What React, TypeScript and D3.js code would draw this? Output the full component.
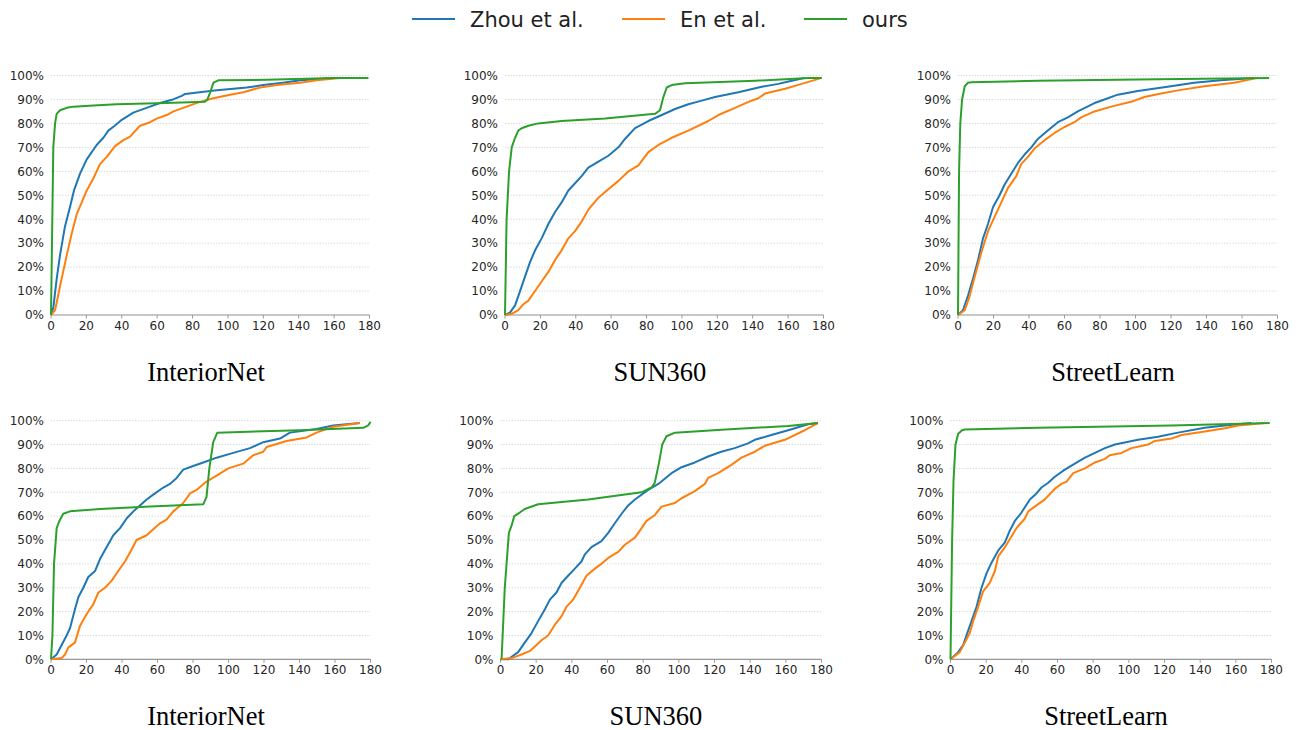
import React from "react"
import * as d3 from "d3"

// series names + colours (matplotlib tab10)
const seriesNames = ["Zhou et al.", "En et al.", "ours"]
const seriesColors = ["#1f77b4", "#ff7f0e", "#2ca02c"]

const panelTitles = ["InteriorNet", "SUN360", "StreetLearn", "InteriorNet", "SUN360", "StreetLearn"]

const xTicks = [0, 20, 40, 60, 80, 100, 120, 140, 160, 180]
const yTicks = [0, 10, 20, 30, 40, 50, 60, 70, 80, 90, 100]

// [angle error, cumulative %]
// top row
const zhou1 = [[0, 0], [1.3, 3], [3.2, 15], [5.1, 25], [7.9, 37], [10.7, 45], [13, 52], [16.4, 59], [20.2, 65], [25.8, 71], [29.6, 74], [32.4, 77], [36, 79], [40, 81.5], [46.5, 84.5], [54, 86.5], [61.6, 88.5], [69, 90], [73.9, 91.5], [75.8, 92.3], [84, 93], [93.7, 93.8], [103, 94.5], [110.6, 95], [120, 96], [131, 97], [141, 98], [159.6, 99]]
const en1 = [[0, 0], [2.3, 2], [5.1, 12], [8.9, 25], [11.7, 34], [14.5, 42], [20.2, 52], [23.9, 57], [27.7, 63], [31.5, 66], [36.2, 70.5], [40.9, 73], [44.7, 74.5], [50.3, 79], [56, 80.5], [59.7, 82], [65.4, 83.5], [69.2, 85], [76.7, 87], [84.2, 89], [91.8, 90.5], [101.2, 92], [108.7, 93], [118.2, 95], [127.6, 96], [140.8, 97], [150.2, 98], [163.4, 99]]
const ours1 = [[0, 0], [1.3, 70], [2.3, 80], [3.2, 84], [5.1, 85.5], [8.9, 86.5], [12.6, 87], [24, 87.5], [37, 88], [65, 88.5], [87, 89], [88.4, 90], [90, 93], [91.8, 97], [94.6, 98], [122, 98.2], [160, 99], [179.4, 99]]

const zhou2 = [[0, 0], [2.8, 1], [5.7, 4], [8.5, 10], [11.3, 16], [14.1, 22], [17, 27], [20.7, 32], [24.5, 38], [28.3, 43], [32, 47], [35.8, 52], [39.6, 55], [43.3, 58], [47.1, 61.5], [52.8, 64], [58.4, 66.5], [64.1, 70], [67.8, 73.5], [73.5, 78], [81, 81], [88.6, 83.5], [96.1, 86], [103.6, 88], [111.2, 89.5], [118.7, 91], [131.9, 93], [145.1, 95.3], [154.5, 96.5], [160.2, 97.5], [169.6, 99]]
const en2 = [[0, 0], [3.8, 0.5], [7.5, 2], [10.4, 4.5], [13.2, 6], [17, 10], [20.7, 14], [24.5, 18], [28.3, 23], [32, 27], [35.8, 32], [39.6, 35], [43.3, 39], [47.1, 44], [52.8, 49], [58.4, 52.5], [64.1, 56], [69.8, 60], [75.4, 62.5], [81, 68], [86.7, 71], [94.2, 74], [103.6, 77], [114.9, 81], [120.6, 83.5], [130, 86.5], [137.6, 89], [143.2, 90.5], [147, 92.5], [158.3, 94.5], [167.7, 96.5], [179, 99]]
const ours2 = [[0, 0], [0.9, 40], [2.3, 60], [3.8, 70], [5.7, 74], [7.5, 77], [9.4, 78], [13.2, 79], [18.8, 80], [32, 81], [56.6, 82], [84.8, 84], [87.6, 85.5], [89.5, 91], [91.4, 95], [94.2, 96], [101.8, 96.8], [141.4, 97.8], [171.5, 99], [179, 99]]

const zhou3 = [[0, 0], [2.8, 2], [5.6, 8], [8.4, 15], [11.3, 23], [14.1, 32], [16.9, 38], [19.7, 45], [23.4, 50], [26.3, 54.5], [30, 59], [33.8, 63.5], [37.5, 67], [41.3, 70], [45, 73.5], [50.6, 77], [56.3, 80.5], [61.9, 82.5], [67.5, 85], [76.9, 88.5], [82.5, 90], [90, 92], [101.3, 93.5], [120, 95.5], [133, 97], [148, 98], [166.9, 99]]
const en3 = [[0, 0], [3.8, 2], [6.6, 8], [9.4, 16], [13.1, 26], [16.9, 35], [20.6, 41], [24.4, 47], [28.1, 53], [32.8, 58], [35.6, 63], [39.4, 66], [43.1, 69.5], [48.8, 73], [54.4, 76], [60, 78.5], [65.6, 80.5], [69.4, 82.5], [76.9, 85], [86.3, 87], [97.5, 89], [105, 91], [114.4, 92.5], [125.6, 94], [138.8, 95.5], [155.6, 97], [168.8, 99]]
const ours3 = [[0, 0], [0.6, 60], [1.3, 80], [2.3, 90], [3.8, 95.5], [5.6, 97], [7.5, 97.2], [45, 97.8], [101, 98.3], [175.3, 99]]

// bottom row
const zhou4 = [[0, 0], [3.2, 2], [6, 6], [8.8, 10], [10.7, 13], [13.5, 21], [15.4, 26], [18.2, 30], [21, 34.5], [24.8, 37], [27.6, 42], [31.3, 47], [35.1, 52], [38.9, 55], [42.6, 59], [46.4, 62], [50.1, 64.5], [53.9, 67], [57.6, 69], [63.3, 72], [67, 73.5], [70.8, 76], [74.5, 79.5], [80.1, 81], [85.8, 82.5], [93.3, 84.5], [102.7, 86.5], [112.1, 88.5], [119.6, 91], [129, 92.5], [134.6, 95], [149.6, 96.5], [159, 98], [174, 99]]
const en4 = [[0, 0], [6, 0.5], [7.9, 2], [9.8, 5], [13.5, 7], [16.3, 14], [20.1, 19], [23.8, 23], [26.7, 28], [30.4, 30], [34.2, 33], [37.9, 37], [41.7, 41], [45.4, 46], [48.2, 50], [53.9, 52], [57.6, 54.5], [61.4, 57], [65.1, 58.5], [68.9, 62], [74.5, 65.5], [78.3, 69.5], [82, 71], [87.6, 74.5], [93.3, 77], [99.9, 80], [108.3, 82], [113.9, 85.5], [119.6, 87], [121.5, 89], [132.7, 91.5], [144, 93], [149.6, 95], [159, 97.5], [174, 99]]
const ours4 = [[0, 0], [0.8, 10], [1.7, 40], [3.2, 55], [4.7, 58], [6.9, 61], [10.7, 62], [27.6, 63], [55.7, 64], [85.8, 65], [87.6, 68], [89.2, 80], [91.4, 91], [93.7, 95], [140.2, 96], [175.9, 97], [178.7, 98], [180, 99.5]]

const zhou5 = [[0, 0], [4.3, 0], [9.9, 3], [13.6, 7], [17.4, 11], [21.1, 16], [24.9, 21], [27.7, 25], [31.4, 28], [34.2, 32], [37.9, 35], [41.7, 38], [45.4, 41], [47.3, 44], [51, 47], [56.6, 49.5], [60.4, 53], [64.1, 57], [67.9, 61], [71.6, 64.5], [75.4, 67], [82.8, 71], [88.5, 73.5], [95.9, 78], [101.5, 80.5], [109, 82.5], [116.4, 85], [123.8, 87], [131.3, 88.5], [138.8, 90.5], [142.6, 92], [151.9, 94], [161.3, 96], [172.5, 98.5], [178, 99]]
const en5 = [[0, 0], [6.2, 0.5], [11.8, 2], [16.5, 3.5], [20.2, 6], [23, 8], [26.7, 10], [30.5, 14.5], [34.2, 18], [37, 22], [40.7, 25], [44.5, 30], [48.2, 35], [52.9, 38], [56.6, 40], [60.4, 42.5], [66, 45], [69.7, 48], [75.4, 51], [79.1, 55], [81.9, 58], [86.6, 60.5], [90.3, 64], [97.8, 65.5], [101.5, 67.5], [109, 70.5], [114.6, 73.5], [116.4, 76], [122, 78], [129.5, 81.5], [135.1, 84.5], [142.6, 87], [148.2, 89.5], [159.4, 92], [170.6, 96], [178, 99]]
const ours5 = [[0.6, 0], [2.4, 30], [4.7, 53], [6.2, 56], [7.7, 60], [10.8, 61.5], [13.6, 63], [21.1, 65], [49.2, 67], [79.1, 70], [84.7, 72], [86.5, 74], [88.8, 82], [90.7, 90], [93.1, 93.5], [97.8, 95], [123.9, 96.2], [161.3, 97.8], [178, 99]]

const zhou6 = [[0, 0], [4.3, 3], [7.1, 6], [9.9, 12], [11.8, 16], [14.6, 22], [17.4, 30], [20.2, 36], [23, 40.5], [26.7, 45.5], [30.5, 49], [33.3, 54], [36.1, 58], [39.8, 61.5], [44.5, 67], [48.2, 69.5], [51, 72], [54.8, 74], [58.5, 76.5], [64.1, 79.5], [69.7, 82], [75.4, 84.5], [81, 86.5], [86.6, 88.5], [92.2, 90], [105.2, 92], [116.4, 93.3], [127.6, 95], [142.6, 97], [153.8, 98], [168.8, 99]]
const en6 = [[0, 0], [5.2, 3], [8, 7], [10.8, 11], [12.7, 16], [15.5, 22], [18.3, 28.5], [22, 32], [24.9, 37], [26.7, 43], [30.5, 47], [34.2, 51.5], [37, 55], [41.7, 59], [43.6, 62], [48.2, 64.5], [52.9, 67], [58.5, 71.5], [62.2, 73.5], [65.1, 74.5], [68.8, 78], [75.4, 80], [81, 82.5], [86.6, 84], [89.3, 85.5], [95.9, 86.5], [101.5, 88.5], [110.8, 90], [114.6, 91.5], [123.9, 92.5], [129.5, 94], [142.6, 95.5], [153.8, 96.8], [161.3, 98], [176.3, 99]]
const ours6 = [[0, 0], [0.9, 50], [1.7, 75], [2.8, 90], [4.3, 94.5], [6.5, 96], [8, 96.3], [49.2, 97], [123.9, 98], [179, 99]]

const panelSeries = [
  [zhou1, en1, ours1],
  [zhou2, en2, ours2],
  [zhou3, en3, ours3],
  [zhou4, en4, ours4],
  [zhou5, en5, ours5],
  [zhou6, en6, ours6],
]

// pixel frame of every subplot
const frames = [
  { x0: 51, x1: 369.5, y0: 315, y1: 75.5, tx: 206, ty: 381 },
  { x0: 505, x1: 823.5, y0: 315, y1: 75.5, tx: 660, ty: 381 },
  { x0: 958, x1: 1277.5, y0: 315, y1: 75.5, tx: 1113, ty: 381 },
  { x0: 51, x1: 370.5, y0: 659.3, y1: 420.7, tx: 206, ty: 725 },
  { x0: 500.5, x1: 821.5, y0: 659.3, y1: 420.7, tx: 656, ty: 725 },
  { x0: 950.5, x1: 1271.5, y0: 659.3, y1: 420.7, tx: 1106, ty: 725 },
]

const tickFont = "'DejaVu Sans', sans-serif"

const Panel = ({ idx }: { idx: number }) => {
  const f = frames[idx]
  const x = d3.scaleLinear().domain([0, 180]).range([f.x0, f.x1])
  const y = d3.scaleLinear().domain([0, 100]).range([f.y0, f.y1])
  const line = d3
    .line<number[]>()
    .x((d) => x(d[0]))
    .y((d) => y(d[1]))

  return (
    <g>
      {/* grid */}
      {yTicks.map((t) => (
        <line
          key={"g" + t}
          x1={f.x0}
          x2={f.x1}
          y1={y(t)}
          y2={y(t)}
          stroke="#c8c8c8"
          strokeWidth={0.8}
          strokeDasharray="1.2,1.6"
        />
      ))}
      {/* bottom spine only */}
      <line x1={f.x0} x2={f.x1} y1={f.y0} y2={f.y0} stroke="#999" strokeWidth={1.2} />
      {xTicks.map((t) => (
        <g key={"x" + t}>
          <line x1={x(t)} x2={x(t)} y1={f.y0} y2={f.y0 + 3.5} stroke="#999" strokeWidth={1} />
          <text x={x(t)} y={f.y0 + 15} textAnchor="middle" fontSize={12} fontFamily={tickFont} fill="#262626">
            {t}
          </text>
        </g>
      ))}
      {yTicks.map((t) => (
        <text key={"y" + t} x={f.x0 - 7} y={y(t) + 4.3} textAnchor="end" fontSize={12} fontFamily={tickFont} fill="#262626">
          {t}%
        </text>
      ))}
      {panelSeries[idx].map((s, i) => (
        <path
          key={"s" + i}
          d={line(s as number[][]) || ""}
          fill="none"
          stroke={seriesColors[i]}
          strokeWidth={2}
          strokeLinejoin="round"
        />
      ))}
      <text
        x={f.tx}
        y={f.ty}
        textAnchor="middle"
        fontSize={26.5}
        fontFamily="'Liberation Serif', 'Times New Roman', serif"
        fill="#000"
      >
        {panelTitles[idx]}
      </text>
    </g>
  )
}

const legendX = [412, 622, 804]

export default function App() {
  return (
    <svg
      width={1298}
      height={730}
      style={{ position: "absolute", left: 0, top: 0, background: "#fff" }}
    >
      {frames.map((_, i) => (
        <Panel key={i} idx={i} />
      ))}
      {seriesNames.map((name, i) => (
        <g key={name}>
          <line x1={legendX[i]} x2={legendX[i] + 43} y1={19} y2={19} stroke={seriesColors[i]} strokeWidth={2} />
          <text x={legendX[i] + 58} y={26.5} fontSize={21} fontFamily={tickFont} fill="#222">
            {name}
          </text>
        </g>
      ))}
    </svg>
  )
}
